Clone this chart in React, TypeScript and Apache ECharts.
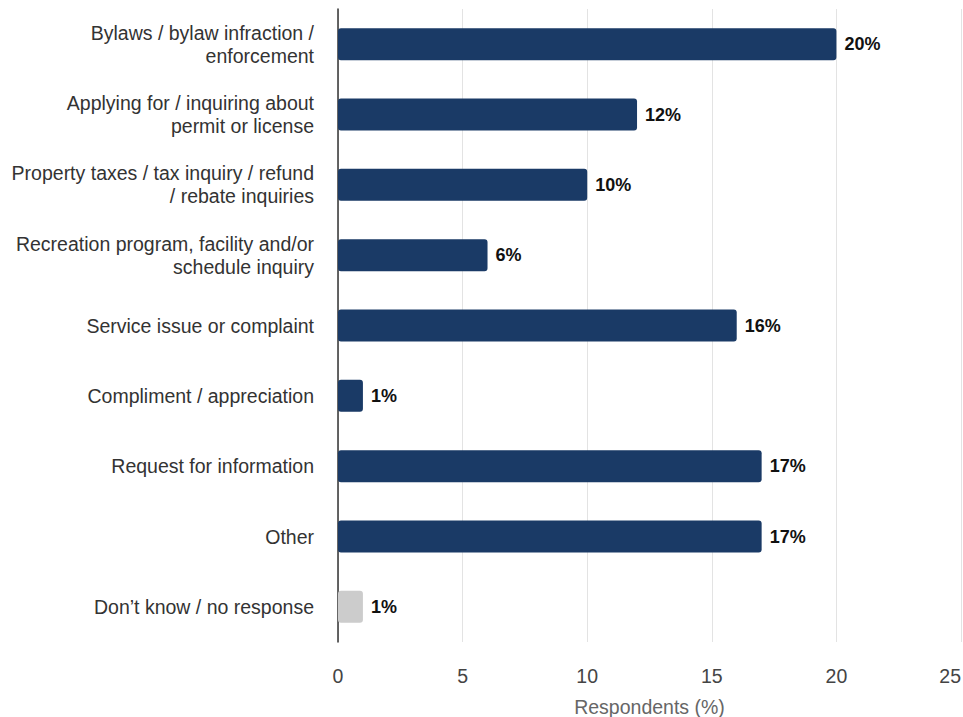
import React, { useEffect, useRef } from "react";
import * as echarts from "echarts";

const categories = [
  "Bylaws / bylaw infraction /\nenforcement",
  "Applying for / inquiring about\npermit or license",
  "Property taxes / tax inquiry / refund\n/ rebate inquiries",
  "Recreation program, facility and/or\nschedule inquiry",
  "Service issue or complaint",
  "Compliment / appreciation",
  "Request for information",
  "Other",
  "Don\u2019t know / no response",
];
const values = [20, 12, 10, 6, 16, 1, 17, 17, 1];
const barColors = ["#1a3a66", "#1a3a66", "#1a3a66", "#1a3a66", "#1a3a66", "#1a3a66", "#1a3a66", "#1a3a66", "#cccccc"];
const xTicks = [0, 5, 10, 15, 20, 25];

export default function App() {
  const ref = useRef<HTMLDivElement>(null);
  useEffect(() => {
    const chart = echarts.init(ref.current!, undefined, { renderer: "svg" });
    chart.setOption({
      animation: false,
      grid: { left: 338, right: 2, top: 9, bottom: 75, containLabel: false, outerBoundsMode: "none" },
      xAxis: {
        type: "value",
        min: xTicks[0],
        max: xTicks[xTicks.length - 1],
        interval: 5,
        name: "Respondents (%)",
        nameLocation: "middle",
        nameGap: 55,
        nameTextStyle: { color: "#666", fontSize: 19.5, fontFamily: "Liberation Sans" },
        axisLine: { show: false },
        axisTick: { show: false },
        axisLabel: {
          color: "#444",
          fontSize: 19.5,
          fontFamily: "Liberation Sans",
          margin: 24,
          alignMaxLabel: "right",
        },
        splitLine: { show: true, lineStyle: { color: "#e3e3e3", width: 1 } },
      },
      yAxis: {
        type: "category",
        inverse: true,
        data: categories,
        axisLine: { show: true, lineStyle: { color: "#333", width: 1.5 } },
        axisTick: { show: false },
        axisLabel: {
          color: "#333",
          fontSize: 19.5,
          lineHeight: 23,
          fontFamily: "Liberation Sans",
          margin: 24,
          align: "right",
        },
      },
      series: [
        {
          type: "bar",
          data: values.map((v, i) => ({ value: v, itemStyle: { color: barColors[i] } })),
          barWidth: 32,
          itemStyle: { borderRadius: 3 },
          label: {
            show: true,
            position: "right",
            distance: 8,
            formatter: "{c}%",
            color: "#111",
            fontWeight: "bold",
            fontSize: 18,
            fontFamily: "Liberation Sans",
          },
        },
      ],
    });
    return () => chart.dispose();
  }, []);
  return <div ref={ref} style={{ width: 963, height: 717, position: "absolute", left: 0, top: 0 }} />;
}
